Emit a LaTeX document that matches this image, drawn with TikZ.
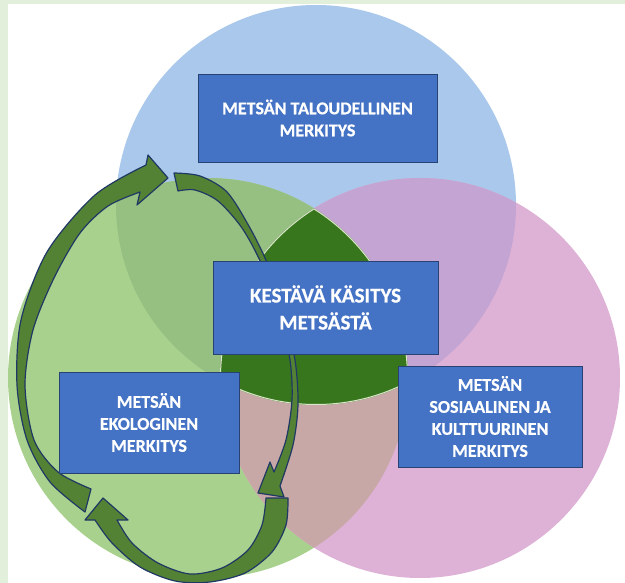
\documentclass[tikz,border=0pt]{standalone}
\usepackage{fontspec}
\setmainfont{Carlito}[BoldFeatures={FakeBold=0.6}]
\definecolor{bgstrip}{RGB}{226,239,218}
\definecolor{cblue}{RGB}{169,200,235}
\definecolor{cgreen}{RGB}{169,209,142}
\definecolor{cpink}{RGB}{222,178,214}
\definecolor{cbg}{RGB}{150,192,130}
\definecolor{cbp}{RGB}{196,164,210}
\definecolor{cgp}{RGB}{199,168,166}
\definecolor{ctri}{RGB}{56,118,29}
\definecolor{trline}{RGB}{215,232,200}
\definecolor{boxfill}{RGB}{68,114,196}
\definecolor{boxline}{RGB}{40,66,115}
\definecolor{arrfill}{RGB}{84,130,53}
\definecolor{arrline}{RGB}{31,56,100}
\begin{document}
\begin{tikzpicture}[x=1pt,y=-1pt,
  textbox/.style={fill=boxfill,draw=boxline,line width=0.8pt,text=white,
    font=\bfseries\fontsize{18}{22}\selectfont,align=center,inner sep=0pt},
  arr/.style={fill=arrfill,draw=arrline,line width=1.2pt,line join=round}]
\useasboundingbox (0,0) rectangle (625,583);
\fill[white] (0,0) rectangle (625,583);
\fill[bgstrip] (0,0) rectangle (625,4);
\fill[bgstrip] (0,0) rectangle (8,583);
% circles
\coordinate (cb) at (316,205);
\coordinate (cg) at (208,378);
\coordinate (cp) at (420,378);
\fill[cblue] (cb) circle[radius=200pt];
\fill[cgreen] (cg) circle[radius=200pt];
\fill[cpink] (cp) circle[radius=200pt];
\begin{scope}
  \clip (cb) circle[radius=200pt];
  \fill[cbg] (cg) circle[radius=200pt];
  \fill[cbp] (cp) circle[radius=200pt];
\end{scope}
\begin{scope}
  \clip (cg) circle[radius=200pt];
  \fill[cgp] (cp) circle[radius=200pt];
\end{scope}
\begin{scope}
  \clip (cb) circle[radius=200pt];
  \clip (cg) circle[radius=200pt];
  \clip (cp) circle[radius=200pt];
  \fill[ctri] (cp) circle[radius=200pt];
  \draw[trline,line width=2pt] (cb) circle[radius=200pt] (cg) circle[radius=200pt] (cp) circle[radius=200pt];
\end{scope}
% arrow 1 (left side, up)
\draw[arr] plot[smooth] coordinates {(85,512) (50,482) (27,440) (17,385) (21,320) (47,252) (95,195) (146,165)}
  -- (148,155) -- (168,178) -- (137,205) -- (140,192)
  -- plot[smooth] coordinates {(140,192) (108,206) (80,233) (54,278) (33,330) (25,385) (34,440) (58,472) (91,489)}
  -- cycle;
% arrow 2 (top, down through centre)
\draw[arr] plot[smooth] coordinates {(174,173) (200,176) (227,192) (250,228) (268,265) (283,310) (295,360) (298,405) (293,445) (280,486)}
  -- (284,497) -- (258,493) -- (270,462) -- (274,472)
  -- plot[smooth] coordinates {(274,472) (286,440) (292,400) (290,360) (279,312) (262,265) (242,228) (218,201) (195,190) (178,191)}
  -- cycle;
% arrow 3 (bottom)
\draw[arr] plot[smooth] coordinates {(288,498) (286,525) (272,552) (245,573) (210,582) (175,581) (140,567) (112,543) (95,520)}
  -- (85,520) -- (103,498) -- (128,520) -- (117,520)
  -- plot[smooth] coordinates {(117,520) (132,543) (158,563) (190,574) (222,568) (248,550) (262,525) (266,498)}
  -- cycle;
% boxes
\node[textbox,minimum width=239pt,minimum height=88pt] (econ) at (317.5,118) {METSÄN TALOUDELLINEN\\MERKITYS};
\node[textbox,minimum width=225pt,minimum height=93pt,font=\bfseries\fontsize{21}{27}\selectfont] (sust) at (325.5,307.5) {KESTÄVÄ KÄSITYS\\METSÄSTÄ};
\node[textbox,minimum width=180pt,minimum height=101pt] (eco) at (149,422.5) {METSÄN\\EKOLOGINEN\\MERKITYS};
\node[textbox,minimum width=184pt,minimum height=101pt] (soc) at (490,416.5) {METSÄN\\SOSIAALINEN JA\\KULTTUURINEN\\MERKITYS};
\end{tikzpicture}
\end{document}
